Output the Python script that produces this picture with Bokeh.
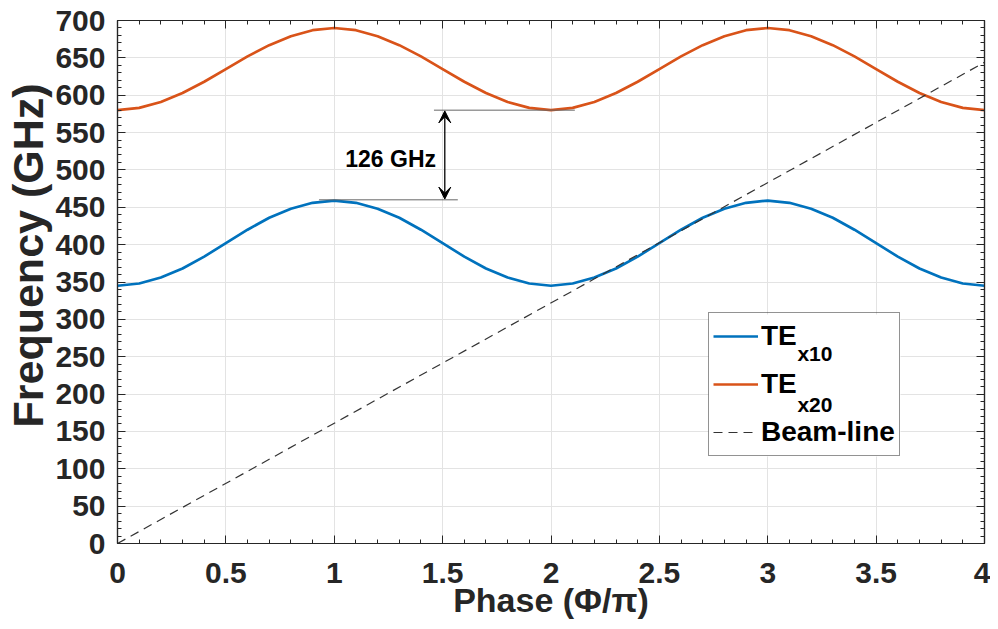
from bokeh.plotting import figure
from bokeh.models import (Range1d, LinearAxis, SingleIntervalTicker, Legend, LegendItem,
                          Label, Arrow, VeeHead, BoxAnnotation, Title)
from bokeh.embed import file_html
from bokeh.resources import INLINE

# ---- data ----
phase = [0.0, 0.1, 0.2, 0.3, 0.4, 0.5, 0.6, 0.7, 0.8, 0.9,
         1.0, 1.1, 1.2, 1.3, 1.4, 1.5, 1.6, 1.7, 1.8, 1.9,
         2.0, 2.1, 2.2, 2.3, 2.4, 2.5, 2.6, 2.7, 2.8, 2.9,
         3.0, 3.1, 3.2, 3.3, 3.4, 3.5, 3.6, 3.7, 3.8, 3.9, 4.0]
te_x10 = [345, 348, 356, 368, 384, 402, 420, 436, 448, 456,
          459, 456, 448, 436, 420, 402, 384, 368, 356, 348,
          345, 348, 356, 368, 384, 402, 420, 436, 448, 456,
          459, 456, 448, 436, 420, 402, 384, 368, 356, 348, 345]
te_x20 = [580, 583, 591, 603, 618, 635, 652, 667, 679, 687,
          690, 687, 679, 667, 652, 635, 618, 603, 591, 583,
          580, 583, 591, 603, 618, 635, 652, 667, 679, 687,
          690, 687, 679, 667, 652, 635, 618, 603, 591, 583, 580]
beam_phase = [0.0, 4.0]
beam_freq = [0.0, 644.0]

gap_low = 460
gap_high = 580
gap_label = "126 GHz"

x_ticks = [0, 0.5, 1, 1.5, 2, 2.5, 3, 3.5, 4]
x_tick_labels = ["0", "0.5", "1", "1.5", "2", "2.5", "3", "3.5", "4"]

FONT = "Liberation Sans"
AX = "#262626"
BLUE = "#0072BD"
ORANGE = "#D95319"

p = figure(width=990, height=628, output_backend="svg", toolbar_location=None,
           x_range=Range1d(0, 4), y_range=Range1d(0, 700),
           min_border_left=117, min_border_right=6, min_border_top=20, min_border_bottom=85)
p.outline_line_color = AX
p.outline_line_width = 1.2
p.background_fill_color = "white"
p.border_fill_color = "white"

xt = SingleIntervalTicker(interval=0.5, num_minor_ticks=5)
yt = SingleIntervalTicker(interval=50, num_minor_ticks=5)

def style_axis(ax, labels=True):
    ax.axis_line_color = AX
    ax.axis_line_width = 1.2
    ax.major_tick_in = 8
    ax.major_tick_out = 0
    ax.minor_tick_in = 4
    ax.minor_tick_out = 0
    ax.major_tick_line_color = AX
    ax.minor_tick_line_color = AX
    ax.major_label_text_font = FONT
    ax.major_label_text_font_style = "bold"
    ax.major_label_text_color = AX
    if labels:
        ax.major_label_text_font_size = "30px"
    else:
        ax.major_label_text_font_size = "0px"
        ax.major_label_standoff = 0

xa = p.xaxis[0]
xa.ticker = xt
style_axis(xa)
xa.major_label_overrides = {t: l for t, l in zip(x_ticks, x_tick_labels)}
xa.major_label_standoff = 19
xa.axis_label = "Phase (Φ/π)"
xa.axis_label_text_font = FONT
xa.axis_label_text_font_style = "bold"
xa.axis_label_text_font_size = "34px"
xa.axis_label_text_color = AX
xa.axis_label_standoff = -5

ya = p.yaxis[0]
ya.ticker = yt
style_axis(ya)
ya.major_label_standoff = 12

# y-axis title, placed above centre as in the reference
p.add_layout(Title(text="Frequency (GHz)", align="left", offset=116, standoff=2,
                   text_font=FONT, text_font_style="bold", text_font_size="43px",
                   text_color=AX), "left")

top = LinearAxis(ticker=xt)
style_axis(top, labels=False)
p.add_layout(top, "above")
right = LinearAxis(ticker=yt)
style_axis(right, labels=False)
p.add_layout(right, "right")

p.xgrid.ticker = xt
p.ygrid.ticker = yt
p.grid.grid_line_color = "#e3e3e3"
p.grid.grid_line_width = 1

r1 = p.line(phase, te_x10, line_color=BLUE, line_width=2.7)
r2 = p.line(phase, te_x20, line_color=ORANGE, line_width=2.7)
r3 = p.line(beam_phase, beam_freq, line_color="#333333", line_width=1.2, line_dash="9 6")

# gap annotation
p.segment(x0=[0.93, 1.46], y0=[gap_low, gap_high], x1=[1.57, 2.11], y1=[gap_low, gap_high],
          line_color="#666666", line_width=1)
p.add_layout(Arrow(start=VeeHead(size=12, fill_color="black", line_color="black", line_width=1),
                   end=VeeHead(size=12, fill_color="black", line_color="black", line_width=1),
                   x_start=1.51, y_start=gap_low + 1, x_end=1.51, y_end=gap_high - 1,
                   line_color="black", line_width=1.3))
p.add_layout(Label(x=1.26, y=515, text=gap_label, text_font=FONT, text_font_style="bold",
                   text_font_size="23px", text_color="black", text_align="center",
                   text_baseline="middle"))

# legend: white backing box, transparent legend on top, subscripts as labels
p.add_layout(BoxAnnotation(left=591, right=783, bottom=87, top=229,
                           left_units="screen", right_units="screen",
                           bottom_units="screen", top_units="screen",
                           fill_color="white", fill_alpha=1.0, line_alpha=0))

legend = Legend(items=[LegendItem(label="TE", renderers=[r1]),
                       LegendItem(label="TE", renderers=[r2]),
                       LegendItem(label="Beam-line", renderers=[r3])],
                location=(591, 87))
legend.label_text_font = FONT
legend.label_text_font_style = "bold"
legend.label_text_font_size = "28px"
legend.label_text_color = "black"
legend.glyph_width = 45
legend.glyph_height = 38
legend.label_height = 38
legend.spacing = 10
legend.padding = 4
legend.margin = 0
legend.label_standoff = 3
legend.border_line_color = AX
legend.border_line_width = 1.2
legend.background_fill_alpha = 0.0
p.add_layout(legend, "center")

for sub, yy in (("x10", 254), ("x20", 186)):
    p.add_layout(Label(x=3.137, y=yy, text=sub, text_font=FONT, text_font_style="bold",
                       text_font_size="21px", text_color="black", text_align="left",
                       text_baseline="alphabetic"))

open("out.html", "w").write(file_html(p, INLINE))
